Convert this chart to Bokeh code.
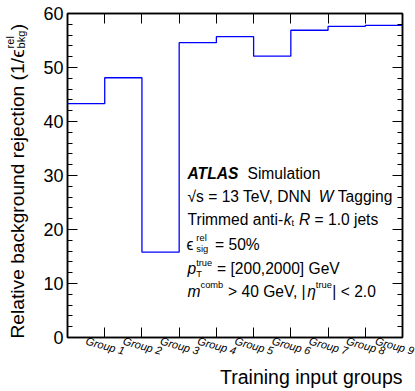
import math
from bokeh.plotting import figure
from bokeh.layouts import column, row
from bokeh.models import Label, FixedTicker, SingleIntervalTicker, LinearAxis, Range1d
from bokeh.embed import file_html
from bokeh.resources import INLINE

# ---------------- data ----------------
groups = ["Group 1", "Group 2", "Group 3", "Group 4", "Group 5",
          "Group 6", "Group 7", "Group 8", "Group 9"]
rejection = [43.3, 48.1, 15.8, 54.6, 55.7, 52.1, 56.9, 57.6, 57.8]
y_min, y_max = 0, 60
x_title = "Training input groups"

FONT = "Liberation Sans"
BASE_FIX = 4   # label baseline compensation (px)

YW = 40
XH = 25
MW, MH = 415 - YW, 391 - XH
L, R, T, B = 27, 13, 13, 29

def no_align(f):
    if "frame_align" in f.properties():
        f.frame_align = False

p = figure(width=MW, height=MH, output_backend="svg", toolbar_location=None,
           x_range=Range1d(0, len(groups)), y_range=Range1d(y_min, y_max),
           min_border_left=L, min_border_right=R, min_border_top=T, min_border_bottom=B)
no_align(p)
p.xgrid.visible = False
p.ygrid.visible = False
p.outline_line_color = "black"
p.outline_line_width = 1.5
p.background_fill_color = "white"
p.border_fill_color = "white"

edges = list(range(len(groups) + 1))
centers = [e + 0.5 for e in edges[:-1]]

xticker = FixedTicker(ticks=centers, minor_ticks=edges[1:-1])
xticker_top = FixedTicker(ticks=[], minor_ticks=edges[1:-1])
yticker = SingleIntervalTicker(interval=10, num_minor_ticks=5)

def style_axis(ax, ticker, major_in, minor_in):
    ax.ticker = ticker
    ax.axis_line_color = "black"
    ax.axis_line_width = 1.5
    ax.major_tick_in = major_in
    ax.major_tick_out = 0
    ax.minor_tick_in = minor_in
    ax.minor_tick_out = 0
    ax.major_tick_line_color = "black"
    ax.minor_tick_line_color = "black"
    ax.major_tick_line_width = 1
    ax.minor_tick_line_width = 1

xa = p.xaxis[0]
style_axis(xa, xticker, 0, 10)
xa.major_label_overrides = {c: g for c, g in zip(centers, groups)}
xa.major_label_orientation = -0.27
xa.major_label_standoff = 3
xa.major_label_text_font = FONT
xa.major_label_text_font_size = "11px"
xa.major_label_text_font_style = "italic"
xa.major_label_text_color = "black"

ya = p.yaxis[0]
style_axis(ya, yticker, 10, 5)
ya.major_label_text_font = FONT
ya.major_label_text_font_size = "18px"
ya.major_label_text_color = "black"
ya.major_label_standoff = 4

top = LinearAxis()
style_axis(top, xticker_top, 0, 10)
top.major_label_standoff = 0
p.add_layout(top, "above")

right = LinearAxis()
style_axis(right, yticker, 10, 5)
right.major_label_text_font_size = "1px"
right.major_label_text_color = None
right.major_label_standoff = 0
p.add_layout(right, "right")

p.step(edges, rejection + [rejection[-1]], mode="after",
       line_color="#0000ff", line_width=1.3)

AW = {' ': 278, '!': 278, '%': 889, '(': 333, ')': 333, ',': 278, '-': 333, '.': 278,
      '/': 278, '<': 584, '=': 584, '>': 584, '[': 278, ']': 278, '|': 260,
      'A': 667, 'B': 667, 'C': 722, 'D': 722, 'E': 667, 'F': 611, 'G': 778, 'H': 722,
      'I': 278, 'J': 500, 'K': 667, 'L': 556, 'M': 833, 'N': 722, 'O': 778, 'P': 667,
      'Q': 778, 'R': 722, 'S': 667, 'T': 611, 'U': 722, 'V': 667, 'W': 944, 'X': 667,
      'Y': 667, 'Z': 611,
      'a': 556, 'b': 556, 'c': 500, 'd': 556, 'e': 556, 'f': 278, 'g': 556, 'h': 556,
      'i': 222, 'j': 222, 'k': 500, 'l': 222, 'm': 833, 'n': 556, 'o': 556, 'p': 556,
      'q': 556, 'r': 333, 's': 500, 't': 278, 'u': 556, 'v': 500, 'w': 722, 'x': 500,
      'y': 500, 'z': 500, 'ϵ': 440, 'η': 556, '√': 549}
BW = {'A': 722, 'T': 611, 'L': 611, 'S': 667}

def tw(s, size, style="normal"):
    tot = 0
    for ch in s:
        if "bold" in style and ch in BW:
            tot += BW[ch]
        else:
            tot += AW.get(ch, 556)
    return tot * size / 1000.0

def make_rich(fig):
    def seg(x, y, text, size, style="normal", angle=0.0):
        fig.add_layout(Label(x=x, y=y, x_units="screen", y_units="screen", text=text,
                             text_font=FONT, text_font_size=f"{size}px",
                             text_font_style=style, text_color="black",
                             text_baseline="alphabetic", text_align="left", angle=angle))

    def rich(x0, y0, parts, vertical=False):
        pos = 0.0

        def put(off, dy, text, size, style):
            lead = len(text) - len(text.lstrip(" "))
            off += tw(" " * lead, size)
            text = text.strip(" ")
            if not text:
                return
            if vertical:
                seg(x0 - dy - BASE_FIX, y0 + off, text, size, style, math.pi / 2)
            else:
                seg(x0 + off, y0 + dy + BASE_FIX, text, size, style)

        for part in parts:
            if part[0] == "STACK":
                _, sup, sub, size, up, down = part
                if sup:
                    put(pos, up, sup, size, "normal")
                if sub:
                    put(pos, -down, sub, size, "normal")
                pos += max(tw(sup, size), tw(sub, size)) + 0.5
            elif part[0] == "GAP":
                pos += part[1]
            else:
                text, size, style, dy = part
                put(pos, dy, text, size, style)
                pos += tw(text, size, style)
        return pos
    return rich

rich = make_rich(p)

# info box, frame coordinates (frame origin = page (67, 337))
FS = 15.6
SS = 9.3
bx = 120
rich(bx, 160, [("ATLAS", FS, "bold italic", 0), ("GAP", 8), ("Simulation", FS, "normal", 0)])
rich(bx, 137, [("√", FS, "normal", 0), ("s = 13 TeV, DNN ", FS, "normal", 0),
               ("W", FS, "italic", 0), (" Tagging", FS, "normal", 0)])
rich(bx, 114, [("Trimmed anti-", FS, "normal", 0), ("k", FS, "italic", 0),
               ("STACK", "", "t", SS, 0, 3), (" ", FS, "normal", 0),
               ("R", FS, "italic", 0), (" = 1.0 jets", FS, "normal", 0)])
rich(bx - 1, 89, [("ϵ", FS, "normal", 0), ("GAP", 3), ("STACK", "rel", "sig", SS, 6.5, 4),
                  ("GAP", 2), (" = 50%", FS, "normal", 0)])
rich(bx, 65.5, [("p", FS, "italic", 0), ("STACK", "true", "T", SS, 5.5, 6),
                (" = [200,2000] GeV", FS, "normal", 0)])
rich(bx, 42.5, [("m", FS, "italic", 0), ("STACK", "comb", "", SS, 6, 0),
                (" > 40 GeV, |", FS, "normal", 0), ("η", FS, "italic", 0),
                ("STACK", "true", "", SS, 6, 0), ("| < 2.0", FS, "normal", 0)])

TS = 19.5
TSY = 19.2

def strip(w, h):
    f = figure(width=w, height=h, output_backend="svg", toolbar_location=None,
               x_range=Range1d(0, w), y_range=Range1d(0, h),
               x_axis_location=None, y_axis_location=None, title=None,
               min_border=0, min_border_left=0, min_border_right=0,
               min_border_top=0, min_border_bottom=0)
    no_align(f)
    f.outline_line_color = None
    f.xgrid.visible = False
    f.ygrid.visible = False
    f.background_fill_color = "white"
    f.border_fill_color = "white"
    return f

# y-title strip (page x 0..40, y 0..366)
ylab = strip(YW, MH)
rich_y = make_rich(ylab)
rich_y(21, MH - 338, [("Relative background rejection (1/", TSY, "normal", 0),
                      ("ϵ", TSY, "normal", 0), ("GAP", 1),
                      ("STACK", "rel", "bkg", 11, 8, 3), (")", TSY, "normal", 0)],
       vertical=True)

# x-title strip (page y 366..391): right end at page x=402
xlab = strip(415, XH)
xlab.add_layout(Label(x=402, y=15, x_units="screen", y_units="screen",
                      text=x_title, text_font=FONT, text_font_size=f"{TS}px",
                      text_color="black", text_baseline="alphabetic", text_align="right"))

page = column(row(ylab, p, spacing=0), xlab, spacing=0)
open("out.html", "w").write(file_html(page, INLINE))
